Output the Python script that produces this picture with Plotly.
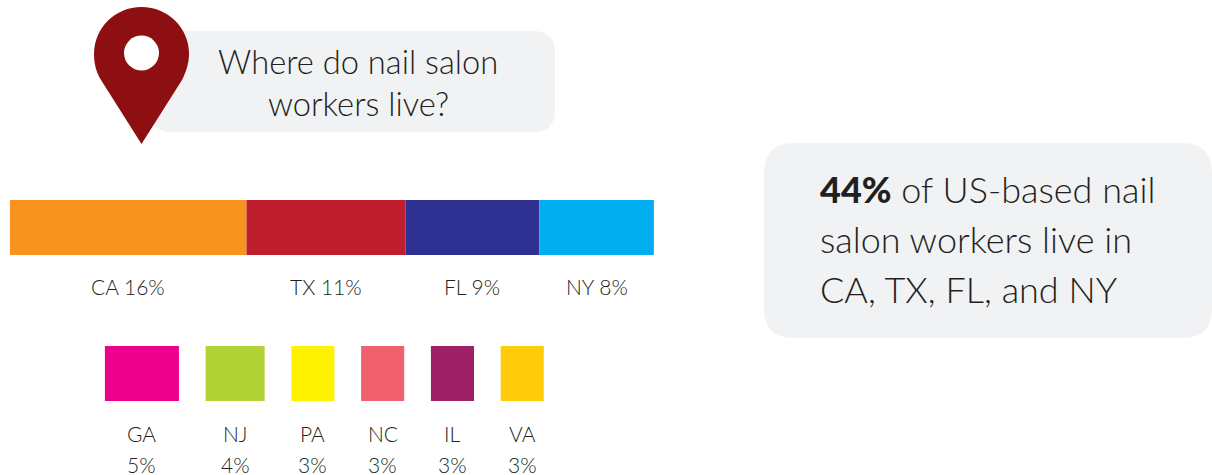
import plotly.graph_objects as go

# ---- data ----
top_states = ["CA", "TX", "FL", "NY"]
top_labels = ["16%", "11%", "9%", "8%"]
top_widths = [16.2, 10.9, 9.15, 7.85]   # bar lengths
top_colors = ["#F8931D", "#BE1E2D", "#2E3192", "#00AEEF"]

other_states = ["GA", "NJ", "PA", "NC", "IL", "VA"]
other_labels = ["5%", "4%", "3%", "3%", "3%", "3%"]
other_widths = [5.07, 4.04, 2.95, 2.95, 2.95, 2.95]
other_colors = ["#EC008C", "#B2D235", "#FFF200", "#F1606D", "#9E1F63", "#FFCB0A"]

title_lines = ["Where do nail salon", "workers live?"]
note_lines = ["of US-based nail", "salon workers live in", "CA, TX, FL, and NY"]
note_bold = "44%"

# ---- layout constants ----
W, H = 1212, 475
PX = 14.6            # pixels per percentage point
X0 = 10              # pixel of value 0
GAP = 1.83           # gap between lower swatches, in points
LOWER_START = 6.5
ROW_TOP, ROW_LOW, BAR_H = 227.5, 373.5, 55
FONT = "Lato"
TEXT = "#231F20"

def xp(v):
    return v / W

def yp(v):
    return 1 - v / H

fig = go.Figure()

# top stacked bar
base = 0
top_centers = []
for s, lab, w, c in zip(top_states, top_labels, top_widths, top_colors):
    fig.add_trace(go.Bar(x=[w], y=[ROW_TOP], base=[base], width=BAR_H, orientation="h",
                         marker=dict(color=c, line=dict(width=0)), name=s,
                         showlegend=False, hovertemplate=f"{s} {lab}<extra></extra>"))
    top_centers.append(base + w / 2)
    base += w

# lower separated bars
base = LOWER_START
low_centers = []
for s, lab, w, c in zip(other_states, other_labels, other_widths, other_colors):
    fig.add_trace(go.Bar(x=[w], y=[ROW_LOW], base=[base], width=BAR_H, orientation="h",
                         marker=dict(color=c, line=dict(width=0)), name=s,
                         showlegend=False, hovertemplate=f"{s} {lab}<extra></extra>"))
    low_centers.append(base + w / 2)
    base += w + GAP

def rrect(x0, y0, x1, y1, r):
    return (f"M{xp(x0+r)},{yp(y0)} L{xp(x1-r)},{yp(y0)} "
            f"Q{xp(x1)},{yp(y0)} {xp(x1)},{yp(y0+r)} L{xp(x1)},{yp(y1-r)} "
            f"Q{xp(x1)},{yp(y1)} {xp(x1-r)},{yp(y1)} L{xp(x0+r)},{yp(y1)} "
            f"Q{xp(x0)},{yp(y1)} {xp(x0)},{yp(y1-r)} L{xp(x0)},{yp(y0+r)} "
            f"Q{xp(x0)},{yp(y0)} {xp(x0+r)},{yp(y0)} Z")

def pin_path():
    P = lambda x, y: f"{xp(x)},{yp(y)}"
    return (f"M{P(141.5,144)} L{P(101,80)} C{P(96,72)} {P(94,63)} {P(94,54)} "
            f"C{P(94,28)} {P(115,7)} {P(141.5,7)} C{P(168,7)} {P(189,28)} {P(189,54)} "
            f"C{P(189,63)} {P(186,72)} {P(182,80)} Z")

shapes = [
    dict(type="path", xref="paper", yref="paper", path=rrect(150, 31, 555, 132, 22),
         fillcolor="#F1F2F4", line=dict(width=0), layer="below"),
    dict(type="path", xref="paper", yref="paper", path=rrect(764, 143, 1212, 338, 30),
         fillcolor="#F1F2F4", line=dict(width=0), layer="below"),
    dict(type="path", xref="paper", yref="paper", path=pin_path(),
         fillcolor="#8D0F12", line=dict(width=0)),
    dict(type="circle", xref="paper", yref="paper", x0=xp(124), x1=xp(159),
         y0=yp(70.5), y1=yp(35.5), fillcolor="#FFFFFF", line=dict(width=0)),
]

def text(x, y, t, size, anchor="center", xref="x", height=None):
    return dict(x=x, y=y, text=t, xref=xref, yref="y", showarrow=False, xanchor=anchor,
                yanchor="middle", align=anchor, height=height,
                font=dict(family=FONT, size=size, color=TEXT, weight=300))

annotations = []
for line, y in zip(title_lines, [61.5, 103.5]):
    annotations.append(text(xp(358), y, line, 32.7, xref="paper"))
for i, (line, y) in enumerate(zip(note_lines, [189, 239, 289])):
    t = line
    if i == 0:
        t = f'<span style="font-weight:900">{note_bold}</span> {line}'
    annotations.append(text(xp(818), y, t, 36, anchor="left", xref="paper"))
for s, lab, c in zip(top_states, top_labels, top_centers):
    annotations.append(text(c, 286.5, f"{s} {lab}", 21))
for s, lab, c in zip(other_states, other_labels, low_centers):
    annotations.append(text(c, 433, s, 21))
    annotations.append(text(c, 464, lab, 21, height=20))

fig.update_layout(
    width=W, height=H, margin=dict(l=0, r=0, t=0, b=0, pad=0),
    paper_bgcolor="#FFFFFF", plot_bgcolor="rgba(0,0,0,0)",
    barmode="overlay", showlegend=False,
    xaxis=dict(range=[-X0 / PX, (W - X0) / PX], visible=False, fixedrange=True),
    yaxis=dict(range=[H, 0], visible=False, fixedrange=True),
    shapes=shapes, annotations=annotations,
)

fig.write_html("out.html", config=dict(displayModeBar=False),
               post_script="document.body.style.margin='0';document.body.style.overflow='hidden';")
